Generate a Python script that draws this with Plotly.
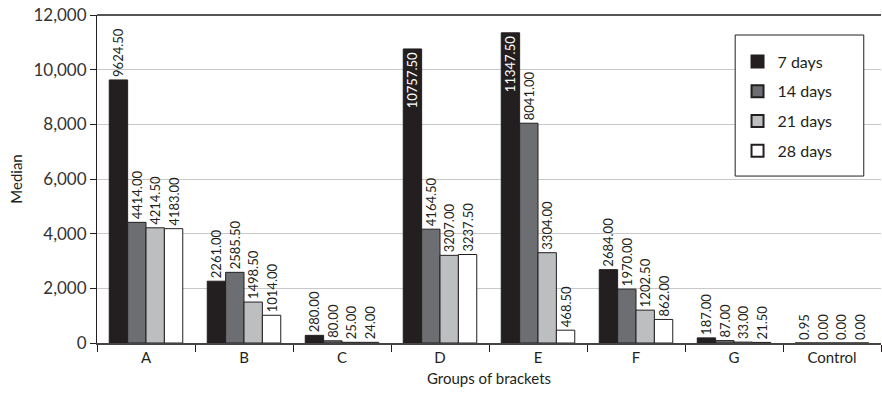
import plotly.graph_objects as go

categories = ["A", "B", "C", "D", "E", "F", "G", "Control"]
series_names = ["7 days", "14 days", "21 days", "28 days"]
days7 = [9624.50, 2261.00, 280.00, 10757.50, 11347.50, 2684.00, 187.00, 0.95]
days14 = [4414.00, 2585.50, 80.00, 4164.50, 8041.00, 1970.00, 87.00, 0.00]
days21 = [4214.50, 1498.50, 25.00, 3207.00, 3304.00, 1202.50, 33.00, 0.00]
days28 = [4183.00, 1014.00, 24.00, 3237.50, 468.50, 862.00, 21.50, 0.00]
colors = ["#231f20", "#6d6e71", "#bcbec0", "#ffffff"]

FONT = "Lato"
fig = go.Figure()
for name, vals, col in zip(series_names, [days7, days14, days21, days28], colors):
    positions = ["inside" if v > 10000 else "outside" for v in vals]
    fig.add_trace(go.Bar(
        x=categories, y=vals, name=name, legendgroup=name,
        marker=dict(color=col, line=dict(color="#231f20", width=1)),
        text=[f"{v:.2f}" for v in vals],
        textposition=positions,
        textangle=-90,
        insidetextanchor="end",
        insidetextfont=dict(color="white", size=13, family=FONT),
        outsidetextfont=dict(color="#231f20", size=13, family=FONT),
        cliponaxis=False,
    ))

# legend frame
fig.add_shape(type="rect", xref="paper", yref="paper",
              x0=0.814, x1=0.978, y0=0.509, y1=0.939,
              line=dict(color="#231f20", width=1), fillcolor="white", layer="above")
# top frame line
fig.add_shape(type="line", xref="paper", yref="paper",
              x0=0, x1=1, y0=1, y1=1,
              line=dict(color="#555", width=2), layer="above")

fig.update_layout(
    width=882, height=399,
    margin=dict(l=97, r=1, t=15, b=56),
    paper_bgcolor="white", plot_bgcolor="white",
    barmode="group", bargap=0.25, bargroupgap=0,
    font=dict(family=FONT, color="#231f20"),
    uniformtext=dict(minsize=13, mode="show"),
    legend=dict(
        x=0.817, y=0.91, xanchor="left", yanchor="top",
        borderwidth=0, bgcolor="rgba(0,0,0,0)",
        font=dict(size=16, family=FONT, color="#231f20"),
        tracegroupgap=6, itemsizing="constant",
    ),
    xaxis=dict(
        title=dict(text="Groups of brackets", font=dict(size=15, family=FONT), standoff=8),
        tickfont=dict(size=15, family=FONT),
        showline=True, linecolor="#444", linewidth=2,
        ticks="outside", tickson="boundaries", ticklen=7, tickcolor="#231f20",
        automargin=False,
    ),
    yaxis=dict(
        title=dict(text="Median", font=dict(size=15, family=FONT), standoff=7),
        range=[0, 12000], tickvals=[0, 2000, 4000, 6000, 8000, 10000, 12000],
        tickformat=",", tickfont=dict(size=17, family=FONT, color="#333"),
        ticklabeloverflow="allow",
        showgrid=True, gridcolor="#c8c8c8", gridwidth=1,
        showline=True, linecolor="#231f20", linewidth=1,
        ticks="outside", ticklen=6, tickcolor="#231f20",
        zeroline=False, automargin=False,
    ),
)

fig.write_html("out.html", config={"displayModeBar": False},
               post_script="document.body.style.margin='0';")
